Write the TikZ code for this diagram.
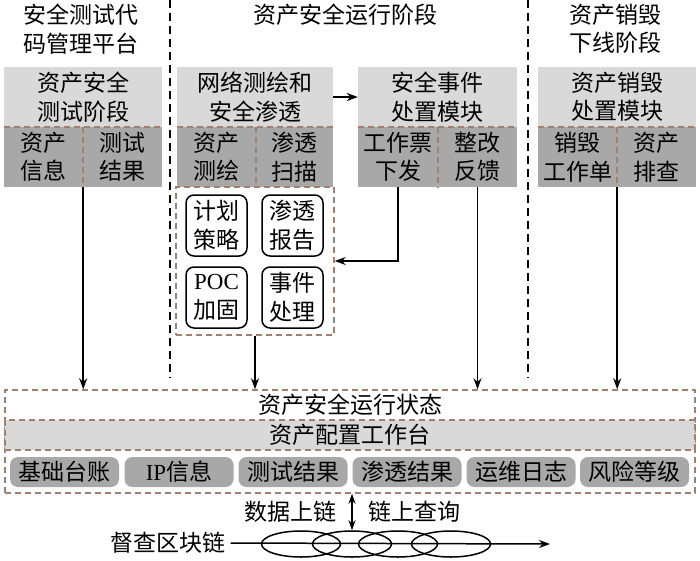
\documentclass[tikz,border=0pt]{standalone}
\usepackage{fontspec}
\setmainfont{Noto Sans CJK SC}
\newfontfamily\latf{Liberation Serif}
\usetikzlibrary{arrows.meta,shapes.geometric}
\definecolor{lg}{HTML}{D9D9D9}
\definecolor{dg}{HTML}{A8A8A8}
\definecolor{brn}{HTML}{A0806E}
\tikzset{
  txt/.style={font=\fontsize{23}{28.5}\selectfont, align=center, inner sep=0pt},
  lbox/.style={txt, fill=lg, draw=none},
  dbox/.style={txt, fill=dg, draw=none},
  bdash/.style={draw=brn, line width=1.5pt, dash pattern=on 6pt off 4pt},
  vdash/.style={draw=black, line width=1.6pt, dash pattern=on 8pt off 5pt},
  rbox/.style={txt, draw=black, line width=1.5pt, rounded corners=8pt, fill=white, minimum width=61, minimum height=61},
  gbox/.style={txt, fill=dg, rounded corners=8pt, minimum width=109, minimum height=30},
  arr/.style={-{Stealth[length=11pt,width=8pt]}, line width=1.5pt},
  darr/.style={{Stealth[length=10pt,width=7pt]}-{Stealth[length=10pt,width=7pt]}, line width=1.5pt},
  chain/.style={ellipse, draw=black, line width=1.5pt, minimum width=79, minimum height=26, inner sep=0pt}
}
\begin{document}
\begin{tikzpicture}[x=1pt,y=-1pt]
\useasboundingbox (0,0) rectangle (700,560);
% titles
\node[txt] (t1) at (81,29) {安全测试代\\码管理平台};
\node[txt] (t2) at (345,15) {资产安全运行阶段};
\node[txt] (t3) at (615,29) {资产销毁\\下线阶段};
% vertical dashed separators
\coordinate (v1a) at (170,0); \coordinate (v1b) at (170,378);
\coordinate (v2a) at (528,0); \coordinate (v2b) at (528,378);
\draw[vdash] (v1a) -- (v1b);
\draw[vdash] (v2a) -- (v2b);
% box A
\node[lbox, minimum width=158, minimum height=60] (A) at (83,97) {资产安全\\测试阶段};
\node[dbox, minimum width=79, minimum height=60] (A1) at (43.5,157) {资产\\信息};
\node[dbox, minimum width=79, minimum height=60] (A2) at (122.5,157) {测试\\结果};
% box B
\node[lbox, minimum width=156, minimum height=60] (B) at (255,97) {网络测绘和\\安全渗透};
\node[dbox, minimum width=79, minimum height=60] (B1) at (216.5,157) {资产\\测绘};
\node[dbox, minimum width=77, minimum height=60] (B2) at (294.5,157) {渗透\\扫描};
% box C
\node[lbox, minimum width=159, minimum height=60] (C) at (437.5,97) {安全事件\\处置模块};
\node[dbox, minimum width=80, minimum height=60] (C1) at (398,157) {工作票\\下发};
\node[dbox, minimum width=79, minimum height=60] (C2) at (477.5,157) {整改\\反馈};
% box D
\node[lbox, minimum width=158, minimum height=60] (D) at (617,97) {资产销毁\\处置模块};
\node[dbox, minimum width=79, minimum height=60] (D1) at (577.5,157) {销毁\\工作单};
\node[dbox, minimum width=79, minimum height=60] (D2) at (656.5,157) {资产\\排查};
% dashed separators inside boxes
\foreach \b/\c in {A/A1, B/B1, C/C1, D/D1}{
  \draw[bdash] (\b.south west) -- (\b.south east);
  \draw[bdash] (\c.north east) -- (\c.south east);
}
% dashed group below B
\node[bdash, minimum width=158, minimum height=148, inner sep=0pt] (P) at (255,261) {};
\node[rbox] (R1) at (216.5,225.5) {计划\\策略};
\node[rbox] (R2) at (292.5,225.5) {渗透\\报告};
\node[rbox] (R3) at (216.5,297.5) {{\latf POC}\\加固};
\node[rbox] (R4) at (292.5,297.5) {事件\\处理};
% bottom platform
\node[bdash, minimum width=690, minimum height=103, inner sep=0pt] (S) at (350,441.5) {};
\node[txt] (ST) at (350,405) {资产安全运行状态};
\node[bdash, fill=lg, minimum width=690, minimum height=30, inner sep=0pt, txt] (W) at (350,435) {资产配置工作台};
\node[gbox] (G1) at (64.5,472) {基础台账};
\node[gbox] (G2) at (179,472) {{\latf IP}信息};
\node[gbox] (G3) at (293,472) {测试结果};
\node[gbox] (G4) at (407,472) {渗透结果};
\node[gbox] (G5) at (521,472) {运维日志};
\node[gbox] (G6) at (634.5,472) {风险等级};
% arrows
\draw[arr] (B.east) -- (C.west);
\draw[arr] (C1.south) |- (P.east);
\draw[arr] (A1.south east) -- (A1.south east |- S.north);
\draw[arr] (P.south) -- (P.south |- S.north);
\draw[arr] (C2.south) -- (C2.south |- S.north);
\draw[arr] (D1.south east) -- (D1.south east |- S.north);
% blockchain
\node[txt] (L) at (168,543) {督查区块链};
\node[chain] (E1) at (301,544) {};
\node[chain] (E2) at (352,544) {};
\node[chain] (E3) at (398,544) {};
\node[chain] (E4) at (451,544) {};
\coordinate (ce) at (550,544);
\draw[arr] (L.east) ++(5,0) coordinate (cs) (cs) -- (ce);
\draw[darr] (S.south -| E2.north) -- (E2.north);
\node[txt] (U1) at (290,512) {数据上链};
\node[txt] (U2) at (414,512) {链上查询};
\end{tikzpicture}
\end{document}
